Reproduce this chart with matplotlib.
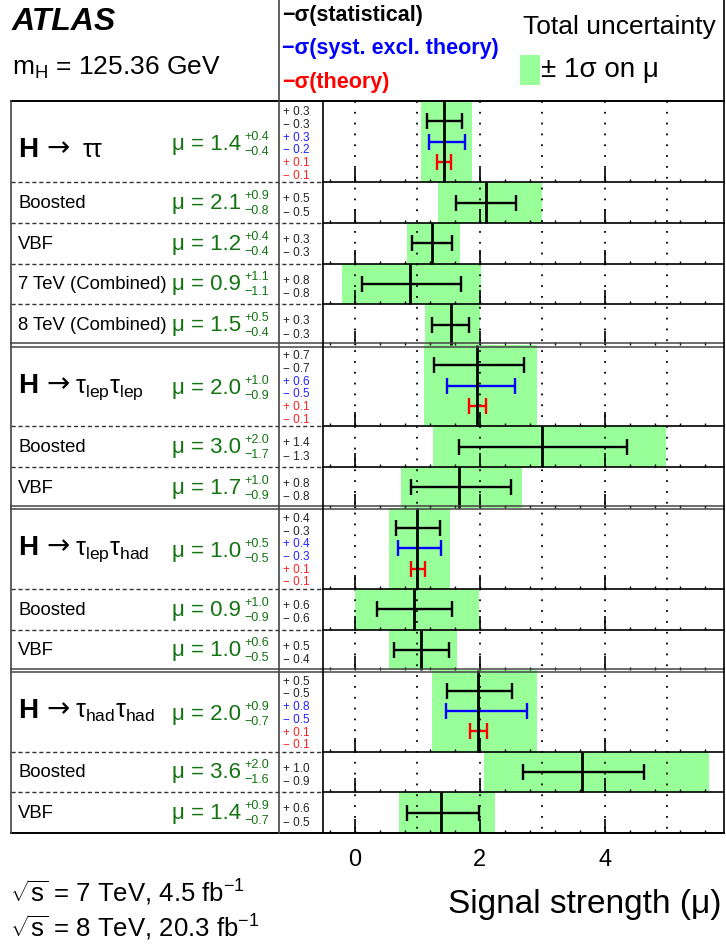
import matplotlib
matplotlib.use('Agg')
import numpy as np
import matplotlib.pyplot as plt
from matplotlib import transforms
from matplotlib.patches import Rectangle

plt.rcParams['font.family'] = ['Liberation Sans', 'DejaVu Sans']
plt.rcParams['mathtext.fontset'] = 'custom'
plt.rcParams['mathtext.rm'] = 'Liberation Sans'
plt.rcParams['mathtext.it'] = 'Liberation Sans:italic'
plt.rcParams['mathtext.bf'] = 'Liberation Sans:bold'

# ---------------- data ----------------
row_labels = ['ττ', 'Boosted', 'VBF', '7 TeV (Combined)', '8 TeV (Combined)',
              r'$\mathrm{τ_{lep}τ_{lep}}$', 'Boosted', 'VBF',
              r'$\mathrm{τ_{lep}τ_{had}}$', 'Boosted', 'VBF',
              r'$\mathrm{τ_{had}τ_{had}}$', 'Boosted', 'VBF']
is_group = [True, False, False, False, False, True, False, False,
            True, False, False, True, False, False]
mu = [1.43, 2.09, 1.23, 0.88, 1.53, 1.96, 2.99, 1.66, 1.00, 0.94, 1.06, 1.97, 3.63, 1.38]
tot_up = [0.44, 0.90, 0.45, 1.14, 0.47, 0.95, 1.98, 1.02, 0.52, 1.04, 0.57, 0.95, 2.03, 0.86]
tot_dn = [0.37, 0.76, 0.40, 1.09, 0.41, 0.86, 1.74, 0.92, 0.46, 0.94, 0.52, 0.74, 1.57, 0.68]
stat_up = [0.28, 0.48, 0.33, 0.82, 0.30, 0.75, 1.36, 0.83, 0.36, 0.61, 0.44, 0.55, 0.99, 0.61]
stat_dn = [0.27, 0.48, 0.31, 0.77, 0.29, 0.70, 1.32, 0.76, 0.34, 0.59, 0.43, 0.50, 0.94, 0.54]
group_rows = [0, 5, 8, 11]
syst_up = [0.33, 0.60, 0.37, 0.78]
syst_dn = [0.25, 0.48, 0.31, 0.52]
theo_up = [0.11, 0.14, 0.12, 0.14]
theo_dn = [0.11, 0.14, 0.10, 0.13]

mu_text = ['1.4', '2.1', '1.2', '0.9', '1.5', '2.0', '3.0', '1.7', '1.0', '0.9', '1.0', '2.0', '3.6', '1.4']
tot_up_text = ['+0.4', '+0.9', '+0.4', '+1.1', '+0.5', '+1.0', '+2.0', '+1.0', '+0.5', '+1.0', '+0.6', '+0.9', '+2.0', '+0.9']
tot_dn_text = ['−0.4', '−0.8', '−0.4', '−1.1', '−0.4', '−0.9', '−1.7', '−0.9', '−0.5', '−0.9', '−0.5', '−0.7', '−1.6', '−0.7']
stat_up_text = ['0.3', '0.5', '0.3', '0.8', '0.3', '0.7', '1.4', '0.8', '0.4', '0.6', '0.5', '0.5', '1.0', '0.6']
stat_dn_text = ['0.3', '0.5', '0.3', '0.8', '0.3', '0.7', '1.3', '0.8', '0.3', '0.6', '0.4', '0.5', '0.9', '0.5']
syst_up_text = ['0.3', '0.6', '0.4', '0.8']
syst_dn_text = ['0.2', '0.5', '0.3', '0.5']
theo_up_text = ['0.1', '0.1', '0.1', '0.1']
theo_dn_text = ['0.1', '0.1', '0.1', '0.1']

x_major = [0, 2, 4]
x_grid = [0, 1, 2, 3, 4, 5]

# ---------------- layout ----------------
W, H = 726, 949
PX_L, PX_R, PY_T, PY_B = 323, 724, 101, 833
XL, XR = -0.51, 5.904

heights = np.array([2.0 if g else 1.0 for g in is_group])
tops = np.concatenate([[0.0], np.cumsum(heights)[:-1]])
centers = tops + heights / 2
NTOT = heights.sum()
unit_px = (PY_B - PY_T) / NTOT

GREEN = '#99ff99'
TXTGREEN = '#137313'
BLUE = '#0000ff'
RED = '#ff0000'

fig = plt.figure(figsize=(W / 100, H / 100), dpi=100)
bg = fig.add_axes([0, 0, 1, 1])
bg.set_xlim(0, W); bg.set_ylim(H, 0); bg.axis('off')

ax = fig.add_axes([PX_L / W, 1 - PY_B / H, (PX_R - PX_L) / W, (PY_B - PY_T) / H])
ax.set_xlim(XL, XR); ax.set_ylim(NTOT, 0); ax.axis('off')
ax.set_zorder(1)

fg = fig.add_axes([0, 0, 1, 1])
fg.set_xlim(0, W); fg.set_ylim(H, 0); fg.axis('off')
fg.set_zorder(2)

ty = transforms.blended_transform_factory(fg.transData, ax.transData)
tx = transforms.blended_transform_factory(ax.transData, fg.transData)

# ---------------- plot area ----------------
ax.barh(centers, np.array(tot_up) + np.array(tot_dn), left=np.array(mu) - np.array(tot_dn),
        height=heights, color=GREEN, edgecolor='none', zorder=1)
ax.vlines(x_grid, 0, NTOT, colors='black', linestyles=(0, (1, 5)), lw=1.3, zorder=2)

stat_y = np.where(np.array(is_group), tops + 0.5, centers)
ax.errorbar(mu, stat_y, xerr=[stat_dn, stat_up], fmt='none', ecolor='black',
            elinewidth=1.7, capsize=6, capthick=1.7, zorder=4)
gmu = [mu[i] for i in group_rows]
gtop = np.array([tops[i] for i in group_rows])
ax.errorbar(gmu, gtop + 1.0, xerr=[syst_dn, syst_up], fmt='none', ecolor=BLUE,
            elinewidth=1.7, capsize=6, capthick=1.7, zorder=4)
ax.errorbar(gmu, gtop + 1.5, xerr=[theo_dn, theo_up], fmt='none', ecolor=RED,
            elinewidth=1.7, capsize=6, capthick=1.7, zorder=4)
ax.vlines(mu, tops, tops + heights, colors='black', lw=2.0, zorder=5)

# ticks at bottom of every row
minor = np.arange(-0.4, 5.7, 0.4)
for b in tops + heights:
    ax.vlines(minor, b - 3 / unit_px, b, colors='black', lw=1.0, zorder=3)
    ax.vlines(x_major, b - 14 / unit_px, b, colors='black', lw=1.2, zorder=3)

# ---------------- frame lines ----------------
bounds = tops[1:]
group_bounds = [tops[i] for i in group_rows[1:]]
d = 1.6 / unit_px
for b in bounds:
    if b in group_bounds:
        for yy in (b - d, b + d):
            fg.plot([11, PX_R], [yy, yy], transform=ty, color='#444444', lw=1.1)
    else:
        fg.plot([11, PX_L], [b, b], transform=ty, color='#333333', lw=1.0, ls=(0, (3, 2)))
        fg.plot([PX_L, PX_R], [b, b], transform=ty, color='black', lw=1.2)
fg.plot([11, PX_R], [0, 0], transform=ty, color='black', lw=1.4)
fg.plot([11, PX_R], [NTOT, NTOT], transform=ty, color='black', lw=1.4)
fg.plot([11, 11], [0, NTOT], transform=ty, color='#444444', lw=1.2)
fg.plot([PX_L, PX_L], [0, NTOT], transform=ty, color='black', lw=1.2)
fg.plot([279, 279], [0, PY_B], color='#444444', lw=1.2)
fg.plot([PX_R, PX_R], [0, PY_B], color='black', lw=1.2)

# ---------------- left labels ----------------
for i in range(len(mu)):
    c = centers[i]
    t = tops[i]
    if is_group[i]:
        base = t + (1.37 if i == 0 else 1.17)
        tau_x = 83 if i == 0 else 75
        fg.text(18, base, 'H', transform=ty, fontsize=20, fontweight='bold',
                va='baseline', ha='left')
        fg.text(46, base - 0.02, '→', transform=ty, fontsize=20, family='DejaVu Sans',
                va='baseline', ha='left')
        fg.text(tau_x, base, row_labels[i], transform=ty, fontsize=18,
                va='baseline', ha='left')
        off = 0.08
    else:
        off = 0.02
        fg.text(18, c + off, row_labels[i], transform=ty, fontsize=13.3, va='center', ha='left')
    fg.text(241, c + off, 'μ = ' + mu_text[i], transform=ty, fontsize=16, color=TXTGREEN,
            va='center', ha='right')
    so = 7.5 / unit_px
    fg.text(244, c + off - so, tot_up_text[i], transform=ty, fontsize=9, color=TXTGREEN,
            va='center', ha='left')
    fg.text(244, c + off + so, tot_dn_text[i], transform=ty, fontsize=9, color=TXTGREEN,
            va='center', ha='left')

# error column
for i in range(len(mu)):
    t = tops[i]
    if is_group[i]:
        ys = t + np.array([0.28, 0.59, 0.90, 1.21, 1.53, 1.84])
        j = group_rows.index(i)
        entries = [('+ ' + stat_up_text[i], '#222222'), ('− ' + stat_dn_text[i], '#222222'),
                   ('+ ' + syst_up_text[j], '#2222ff'), ('− ' + syst_dn_text[j], '#2222ff'),
                   ('+ ' + theo_up_text[j], '#ff2222'), ('− ' + theo_dn_text[j], '#ff2222')]
        for yy, (s, col) in zip(ys, entries):
            fg.text(283, yy, s, transform=ty, fontsize=8.5, color=col, va='center', ha='left')
    else:
        fg.text(283, t + 0.42, '+ ' + stat_up_text[i], transform=ty, fontsize=8.5,
                color='#222222', va='center', ha='left')
        fg.text(283, t + 0.75, '− ' + stat_dn_text[i], transform=ty, fontsize=8.5,
                color='#222222', va='center', ha='left')

# ---------------- header ----------------
fg.text(12, 22, 'ATLAS', fontsize=23, fontweight='bold', fontstyle='italic', va='center', ha='left')
fg.text(12, 68, r'm$_{\mathrm{H}}$ = 125.36 GeV', fontsize=19, va='center', ha='left')
fg.text(282, 15, '−σ(statistical)', fontsize=15.5, fontweight='bold', color='black', va='center', ha='left')
fg.text(282, 48, '−σ(syst. excl. theory)', fontsize=15.5, fontweight='bold', color=BLUE, va='center', ha='left')
fg.text(282, 82, '−σ(theory)', fontsize=15.5, fontweight='bold', color=RED, va='center', ha='left')
fg.text(523, 27, 'Total uncertainty', fontsize=19, va='center', ha='left')
fg.add_patch(Rectangle((520, 55), 20, 30, color=GREEN, lw=0))
fg.text(541, 70, '± 1σ on μ', fontsize=20, va='center', ha='left')

# ---------------- bottom ----------------
for v in x_major:
    fg.text(v, 860, str(v), transform=tx, fontsize=17, ha='center', va='center')
fg.text(722, 905, 'Signal strength (μ)', fontsize=24, ha='right', va='center')
fg.text(10, 893, r'$\sqrt{\mathrm{s}}$ = 7 TeV, 4.5 fb$^{\mathrm{-1}}$', fontsize=18.5, ha='left', va='center')
fg.text(10, 928, r'$\sqrt{\mathrm{s}}$ = 8 TeV, 20.3 fb$^{\mathrm{-1}}$', fontsize=18.5, ha='left', va='center')

fig.savefig('out.png', dpi=100)
